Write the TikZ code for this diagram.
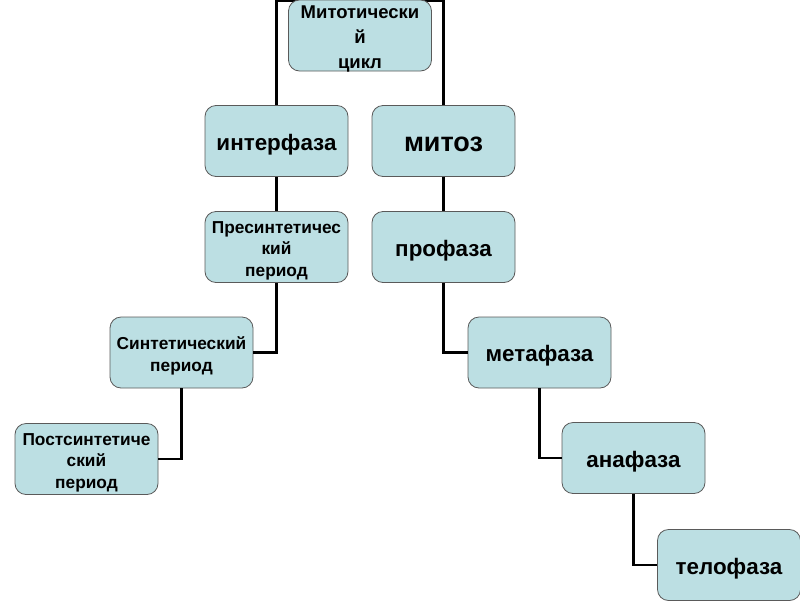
\documentclass[tikz,border=0pt]{standalone}
\usepackage{fontspec}
\setmainfont{Liberation Sans}
\usetikzlibrary{backgrounds}
\definecolor{boxfill}{RGB}{188,223,227}
\definecolor{boxline}{RGB}{90,90,90}
\tikzset{
  box/.style={draw=boxline, line width=0.8pt, fill=boxfill, rounded corners=11pt,
    minimum width=143pt, minimum height=71pt, inner sep=0pt},
  txt/.style={inner sep=0pt, align=center, font=\bfseries\fontsize{22.4}{26}\selectfont},
  smalltxt/.style={txt, font=\bfseries\fontsize{17.3}{21.5}\selectfont},
  toptxt/.style={txt, font=\bfseries\fontsize{18.5}{25}\selectfont},
  bigtxt/.style={txt, font=\bfseries\fontsize{27}{30}\selectfont},
  conn/.style={draw=black, line width=2.4pt}
}
\newcommand{\mybox}[5]{%
  \node[box] (#1) at (#2,#3) {};
  \node[#4] (#1t) at ([yshift=-3.5pt]#1.center) {#5};}
\begin{document}
\begin{tikzpicture}[x=1pt,y=-1pt]
\useasboundingbox (0,0) rectangle (800,600);
\mybox{cycle}{360}{35.5}{toptxt}{Митотически\\й\\цикл}
\mybox{inter}{276.5}{141}{txt}{интерфаза}
\mybox{mitoz}{443.5}{141}{bigtxt}{митоз}
\mybox{pres}{276.5}{247}{smalltxt}{Пресинтетичес\\кий\\период}
\mybox{prof}{443.5}{247}{txt}{профаза}
\mybox{sint}{181.5}{352.5}{smalltxt}{Синтетический\\период}
\mybox{post}{86.5}{459}{smalltxt}{Постсинтетиче\\ский\\период}
\mybox{meta}{539.5}{352.5}{txt}{метафаза}
\mybox{ana}{633.5}{458}{txt}{анафаза}
\mybox{telo}{729}{565}{txt}{телофаза}
\coordinate (tl) at (276.5,1);
\coordinate (tr) at (443.5,1);
\begin{scope}[on background layer]
\draw[conn] (inter.north) -- (tl) -- (tr) -- (mitoz.north);
\end{scope}
\draw[conn] (inter.south) -- (pres.north);
\draw[conn] (mitoz.south) -- (prof.north);
\draw[conn] (pres.south) |- (sint.east);
\draw[conn] (sint.south) |- (post.east);
\draw[conn] (prof.south) |- (meta.west);
\draw[conn] (meta.south) |- (ana.west);
\draw[conn] (ana.south) |- (telo.west);
\end{tikzpicture}
\end{document}
